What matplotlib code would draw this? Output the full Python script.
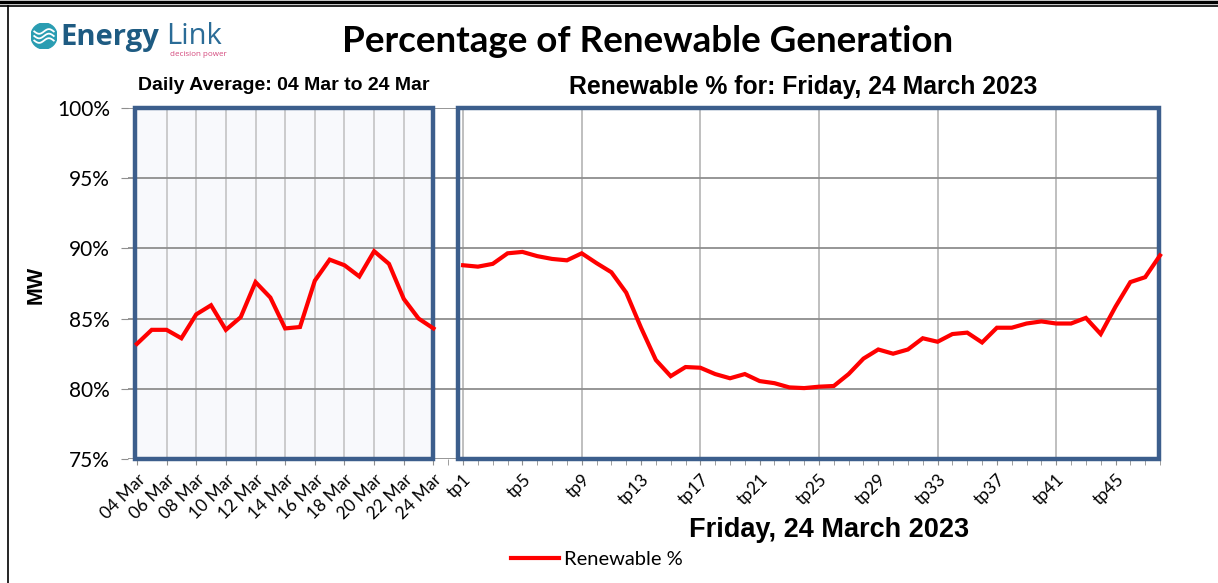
import numpy as np
import matplotlib
matplotlib.use("Agg")
import matplotlib.pyplot as plt
from matplotlib.patches import Rectangle, Circle
from matplotlib.lines import Line2D

# ---------------- data ----------------
day_labels = ["04 Mar", "05 Mar", "06 Mar", "07 Mar", "08 Mar", "09 Mar", "10 Mar",
              "11 Mar", "12 Mar", "13 Mar", "14 Mar", "15 Mar", "16 Mar", "17 Mar",
              "18 Mar", "19 Mar", "20 Mar", "21 Mar", "22 Mar", "23 Mar", "24 Mar"]
daily_avg = [83.2, 84.2, 84.2, 83.6, 85.3, 85.95, 84.2, 85.1, 87.6, 86.5, 84.3,
             84.4, 87.7, 89.2, 88.8, 88.0, 89.8, 88.9, 86.4, 85.0, 84.3]

tp_labels = ["tp%d" % i for i in range(1, 49)]
tp_values = [88.8, 88.7, 88.9, 89.65, 89.75, 89.45, 89.25, 89.15, 89.65, 88.95,
             88.3, 86.85, 84.35, 82.05, 80.9, 81.55, 81.5, 81.05, 80.75, 81.05,
             80.55, 80.4, 80.1, 80.05, 80.15, 80.2, 81.05, 82.15, 82.8, 82.5,
             82.8, 83.6, 83.35, 83.9, 84.0, 83.3, 84.35, 84.35, 84.65, 84.8,
             84.65, 84.65, 85.05, 83.9, 85.85, 87.6, 87.95, 89.5]

y_ticks = [75, 80, 85, 90, 95, 100]

# ---------------- layout ----------------
W, H, DPI = 1218, 583, 100
fig = plt.figure(figsize=(W / DPI, H / DPI), dpi=DPI)
fig.patch.set_facecolor("white")

BOX = "#3C5E8C"
CALIBRI = ["Lato", "DejaVu Sans"]
ARIAL = ["Liberation Sans", "DejaVu Sans"]

n_days = len(day_labels)
gap = 1
x_days = np.arange(n_days)
x_tp = np.arange(len(tp_labels)) + n_days + gap
x_max = x_tp[-1]

ax = fig.add_axes([128 / W, 1 - 459 / H, (1160 - 128) / W, (459 - 108) / H])
ax.set_xlim(-0.6, x_max)
ax.set_ylim(75, 100)
for s in ax.spines.values():
    s.set_visible(False)

# panel background
ax.add_patch(Rectangle((-0.15, 75), n_days - 1 + 0.15, 25, facecolor="#F8F9FC",
                       edgecolor="none", zorder=0))
# gridlines
ax.set_yticks(y_ticks)
ax.set_yticklabels(["%d%%" % v for v in y_ticks], fontsize=15, family=CALIBRI)
ax.yaxis.grid(True, color="#8E8E8E", linewidth=1.3, zorder=1)
ax.tick_params(axis="y", length=5, color="#8E8E8E", pad=8)

for i in range(2, n_days - 1, 2):
    ax.axvline(x_days[i], color="#C4C4C4", linewidth=1.2, zorder=1)
for i in range(0, len(tp_labels), 8):
    ax.axvline(x_tp[i], color="#B4B4B4", linewidth=1.2, zorder=1)
ax.axvline(x_max, color="#C4C4C4", linewidth=1.2, zorder=1)

ax.add_patch(Rectangle((-0.15, 75), n_days - 1 + 0.15, 25, facecolor="none",
                       edgecolor=BOX, linewidth=3.2, zorder=4, clip_on=False))
ax.add_patch(Rectangle((n_days + 0.65, 75), x_max - 0.1 - (n_days + 0.65), 25,
                       facecolor="none", edgecolor=BOX, linewidth=3.2, zorder=4,
                       clip_on=False))

# lines
ax.plot(x_days, daily_avg, color="#FF0000", linewidth=3.0, zorder=5,
        solid_joinstyle="miter", clip_on=False)
ax.plot(x_tp, tp_values, color="#FF0000", linewidth=3.0, zorder=5,
        solid_joinstyle="miter", clip_on=False)

# x ticks
major_pos = list(x_days[::2]) + list(x_tp[::4])
major_lab = day_labels[::2] + tp_labels[::4]
ax.set_xticks(major_pos)
ax.set_xticklabels(major_lab, rotation=45, ha="right", va="top",
                   rotation_mode="anchor", fontsize=12.5, family=CALIBRI)
minor_pos = [n_days] + [p for p in x_tp if p not in major_pos]
ax.set_xticks(minor_pos, minor=True)
ax.tick_params(axis="x", which="both", length=4, color="#8E8E8E", pad=5)

# ---------------- texts ----------------
fig.text(648 / W, 1 - 41 / H, "Percentage of Renewable Generation", ha="center",
         va="center", fontsize=26.5, fontweight="bold", family=CALIBRI)
fig.text(284 / W, 1 - 86 / H, "Daily Average: 04 Mar to 24 Mar", ha="center",
         va="center", fontsize=14, fontweight="bold", family=ARIAL)
fig.text(803 / W, 1 - 87 / H, "Renewable % for: Friday, 24 March 2023", ha="center",
         va="center", fontsize=17.8, fontweight="bold", family=ARIAL)
fig.text(829 / W, 1 - 530 / H, "Friday, 24 March 2023", ha="center", va="center",
         fontsize=19.5, fontweight="bold", family=ARIAL)
fig.text(36 / W, 1 - 285 / H, "MW", ha="center", va="center", rotation=90,
         fontsize=15.5, fontweight="bold", family=ARIAL)

# legend
handle = Line2D([], [], color="#FF0000", linewidth=3.0)
fig.legend([handle], ["Renewable %"], loc="center", bbox_to_anchor=(597 / W, 1 - 559 / H),
           frameon=False, prop={"family": CALIBRI, "size": 14.5}, handlelength=2.4,
           handletextpad=0.25)

# logo
lax = fig.add_axes([31 / W, 1 - 49 / H, 26 / W, 26 / H])
lax.set_xlim(-1, 1)
lax.set_ylim(-1, 1)
lax.set_aspect("equal")
lax.axis("off")
lax.add_patch(Circle((0, 0), 1, color="#2A9DB2"))
t = np.linspace(-0.75, 0.75, 30)
for off in (-0.35, 0.0, 0.35):
    lax.plot(t, off + 0.18 * np.sin(t * 4.2), color="white", linewidth=1.3)
fig.text(60 / W, 1 - 37 / H, "Energy", ha="left", va="center", fontsize=21,
         fontweight="bold", color="#1E5B82", family=["Open Sans", "DejaVu Sans"])
fig.text(166 / W, 1 - 36 / H, "Link", ha="left", va="center", fontsize=21,
         color="#2B6C97", family=["Open Sans", "DejaVu Sans"])
fig.text(227 / W, 1 - 55 / H, "decision power", ha="right", va="center", fontsize=5.8,
         color="#D4487C", family=["Open Sans", "DejaVu Sans"])

# frame lines
fig.add_artist(Line2D([0, 1], [1 - 1.5 / H, 1 - 1.5 / H], color="black", linewidth=2.5))
fig.add_artist(Line2D([0, 1], [1 - 6 / H, 1 - 6 / H], color="black", linewidth=1.2))
fig.add_artist(Line2D([8 / W, 8 / W], [0, 1 - 6 / H], color="black", linewidth=1.2))

fig.savefig("out.png", dpi=DPI)
